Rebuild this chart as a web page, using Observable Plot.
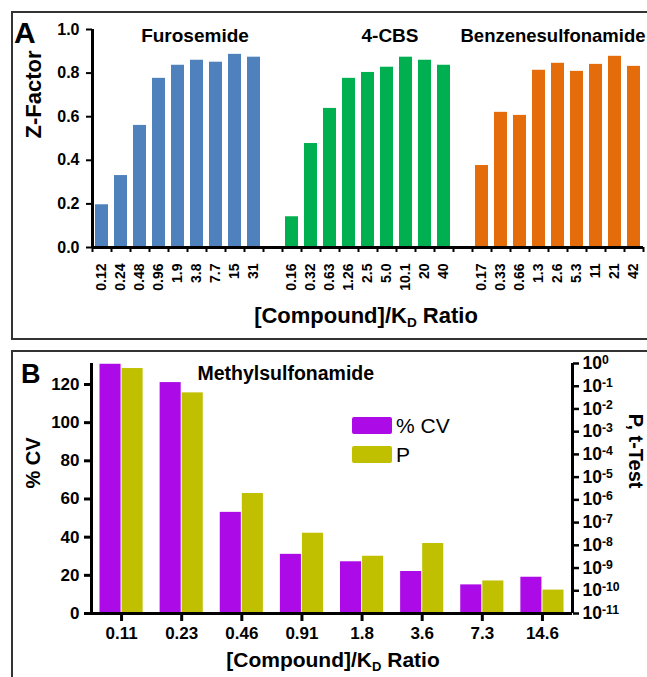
<!DOCTYPE html>
<html><head><meta charset="utf-8">
<script src="https://cdn.jsdelivr.net/npm/d3@7"></script>
<script src="https://cdn.jsdelivr.net/npm/@observablehq/plot@0.6"></script>
<style>
body{margin:0;background:#fff;}
#root{position:relative;width:647px;height:677px;overflow:hidden;background:#fff;font-family:"Liberation Sans",Arial,sans-serif;color:#000;}
#root svg{position:absolute;left:0;}
.abs{position:absolute;white-space:nowrap;}
.frame{position:absolute;box-sizing:border-box;border:2px solid #333;pointer-events:none;}
.xt{font-weight:bold;transform:translateX(-50%);}
.xt sub{font-size:0.62em;vertical-align:-0.28em;line-height:0;}
.leg{position:absolute;display:flex;flex-direction:column;gap:12px;}
.leg .item{display:flex;align-items:center;gap:4px;font-size:21px;line-height:17px;}
.leg .sw{width:40px;height:17px;border-radius:2px;}
</style></head><body><div id="root"></div>
<script>
// ---------- Panel A data ----------
const compoundsA = ["Furosemide", "4-CBS", "Benzenesulfonamide"];
const colorsA = ["#4F81BD", "#00B050", "#E46C0A"];
const furoRatios = ["0.12","0.24","0.48","0.96","1.9","3.8","7.7","15","31"];
const furoZ = [0.196, 0.33, 0.56, 0.776, 0.836, 0.859, 0.85, 0.886, 0.873];
const cbsRatios = ["0.16","0.32","0.63","1.26","2.5","5.0","10.1","20","40"];
const cbsZ = [0.141, 0.477, 0.638, 0.776, 0.803, 0.827, 0.873, 0.859, 0.836];
const benzRatios = ["0.17","0.33","0.66","1.3","2.6","5.3","11","21","42"];
const benzZ = [0.376, 0.62, 0.606, 0.813, 0.845, 0.808, 0.84, 0.877, 0.831];
const zTicks = [0, 0.2, 0.4, 0.6, 0.8, 1.0];

// ---------- Panel B data ----------
const ratiosB = ["0.11","0.23","0.46","0.91","1.8","3.6","7.3","14.6"];
const cvB = [130.6, 121, 53, 31, 27.1, 22, 15, 19];
const pB = [0.6, 0.051, 1.9e-6, 3.4e-8, 3.3e-9, 1.2e-8, 2.7e-10, 1.07e-10];
const seriesB = ["% CV", "P"];
const colorsB = ["#AC0AE6", "#C0BF00"];
const cvTicks = [0, 20, 40, 60, 80, 100, 120];
const pExps = [0, -1, -2, -3, -4, -5, -6, -7, -8, -9, -10, -11];

const FONT = '"Liberation Sans", Arial, sans-serif';
const root = document.getElementById("root");

// ---------- Panel A ----------
const seriesA = [furoRatios, cbsRatios, benzRatios];
const valuesA = [furoZ, cbsZ, benzZ];
const perGroup = furoRatios.length + 1;
const rowsA = compoundsA.flatMap((name, g) => seriesA[g].map((r, i) => ({
  group: name, color: colorsA[g], label: r, z: valuesA[g][i],
  slot: g * perGroup + i, slotEnd: g * perGroup + i + 1, mid: g * perGroup + i + 0.5
})));
const nSlots = compoundsA.length * perGroup - 1;
const boundaries = d3.range(nSlots + 1);
const titleRows = compoundsA.map((name, g) => ({name, x: g * perGroup + (perGroup - 1) / 2}));

const plotA = Plot.plot({
  width: 647, height: 340,
  marginLeft: 92, marginRight: 4, marginTop: 29, marginBottom: 93,
  style: {fontFamily: FONT, fontWeight: "bold", background: "transparent", color: "#000"},
  x: {type: "linear", domain: [0, nSlots], axis: null},
  y: {domain: [0, 1], axis: null},
  color: {type: "identity"},
  marks: [
    Plot.rectY(rowsA, {x1: "slot", x2: "slotEnd", y: "z", fill: "color", insetLeft: 3, insetRight: 3}),
    Plot.ruleY([0], {strokeWidth: 3}),
    Plot.ruleX([0], {strokeWidth: 3}),
    Plot.axisY({ticks: zTicks, tickSize: 6, tickPadding: 7, strokeWidth: 2, fontSize: 16, tickFormat: d3.format(".1f"), label: null}),
    Plot.axisX({ticks: boundaries, tickSize: 5, strokeWidth: 2, tickFormat: () => "", label: null}),
    Plot.text(rowsA, {x: "mid", frameAnchor: "bottom", text: "label", rotate: -90, textAnchor: "end", lineAnchor: "middle", dy: 16, fontSize: 14}),
    Plot.text([titleRows[0]], {x: "x", frameAnchor: "top", text: "name", dx: 17, dy: -1, fontSize: 19}),
    Plot.text([titleRows[1]], {x: "x", frameAnchor: "top", text: "name", dx: 22, dy: -1, fontSize: 19}),
    Plot.text([titleRows[2]], {x: "x", frameAnchor: "top", text: "name", dx: -5, dy: -1, fontSize: 18.5}),
    Plot.text(["Z-Factor"], {frameAnchor: "left", text: d => d, rotate: -90, dx: -58.5, fontSize: 22})
  ]
});
plotA.style.top = "0px";
root.appendChild(plotA);

// ---------- Panel B ----------
const CV_MAX = 131, DECADES = 11;
const pToLeft = p => (Math.log10(p) + DECADES) / DECADES * CV_MAX;
const leftToExp = v => Math.round(v / CV_MAX * DECADES - DECADES);
const rowsB = ratiosB.map((r, i) => ({label: r, i, iMid: i + 0.5, iEnd: i + 1, cv: cvB[i], pPos: pToLeft(pB[i])}));

const plotB = Plot.plot({
  width: 647, height: 337,
  marginLeft: 91, marginRight: 75, marginTop: 23, marginBottom: 64,
  style: {fontFamily: FONT, fontWeight: "bold", background: "transparent", color: "#000"},
  x: {type: "linear", domain: [0, ratiosB.length], axis: null},
  y: {domain: [0, CV_MAX], axis: null},
  marks: [
    Plot.rectY(rowsB, {x1: "i", x2: "iMid", y: "cv", fill: colorsB[0], insetLeft: 8.5, insetRight: 0.5}),
    Plot.rectY(rowsB, {x1: "iMid", x2: "iEnd", y: "pPos", fill: colorsB[1], insetLeft: 0.5, insetRight: 8.5}),
    Plot.ruleY([0], {strokeWidth: 3}),
    Plot.ruleX([0], {strokeWidth: 3}),
    Plot.ruleX([ratiosB.length], {strokeWidth: 3}),
    Plot.axisY({ticks: cvTicks, tickSize: 7, tickPadding: 5, strokeWidth: 3, fontSize: 17, label: null}),
    Plot.axisY({anchor: "right", ticks: pExps.map(e => pToLeft(10 ** e)), tickFormat: v => "10^" + leftToExp(v),
      tickSize: 6, tickPadding: 4, strokeWidth: 2.5, fontSize: 17.5, label: null}),
    Plot.axisX({ticks: rowsB.map(d => d.iMid), tickFormat: v => ratiosB[Math.floor(v)], tickSize: 8, tickPadding: 5,
      strokeWidth: 3, fontSize: 17, label: null}),
    Plot.text(["Methylsulfonamide"], {frameAnchor: "top-left", text: d => d, textAnchor: "start", dx: 106, dy: 3, fontSize: 19.5}),
    Plot.text(["% CV"], {frameAnchor: "left", text: d => d, rotate: -90, dx: -58, fontSize: 20}),
    Plot.text(["P, t-Test"], {frameAnchor: "right", text: d => d, rotate: 90, dx: 63, fontSize: 20})
  ]
});
plotB.style.top = "340px";
root.appendChild(plotB);

// superscript exponents on the right axis
plotB.querySelectorAll("text").forEach(t => {
  const s = t.textContent;
  if (s.includes("^")) {
    const [base, exp] = s.split("^");
    t.textContent = base;
    const ts = document.createElementNS("http://www.w3.org/2000/svg", "tspan");
    ts.setAttribute("dy", "-0.42em");
    ts.setAttribute("font-size", "0.7em");
    ts.textContent = exp;
    t.appendChild(ts);
  }
});

// ---------- HTML overlays ----------
function add(html) { root.insertAdjacentHTML("beforeend", html); }
add(`<div class="abs" style="left:14px;top:18px;font-size:30px;line-height:30px;font-weight:bold;">A</div>`);
add(`<div class="abs" style="left:21px;top:361px;font-size:27px;line-height:27px;font-weight:bold;">B</div>`);
add(`<div class="abs xt" style="left:366px;top:305px;font-size:22px;line-height:22px;">[Compound]/K<sub>D</sub> Ratio</div>`);
add(`<div class="abs xt" style="left:333px;top:649px;font-size:21px;line-height:21px;">[Compound]/K<sub>D</sub> Ratio</div>`);
add(`<div class="leg" style="left:352px;top:417px;">` +
  seriesB.map((s, i) => `<div class="item"><div class="sw" style="background:${colorsB[i]}"></div><span>${s}</span></div>`).join("") +
  `</div>`);
add(`<div class="frame" style="left:11px;top:11px;width:700px;height:329px;"></div>`);
add(`<div class="frame" style="left:11px;top:350px;width:700px;height:400px;"></div>`);
</script></body></html>
